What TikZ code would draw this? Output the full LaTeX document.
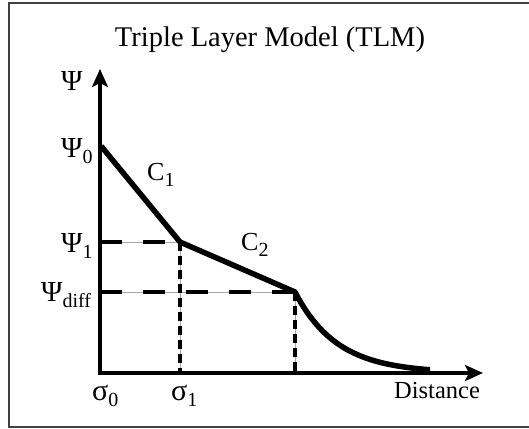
\documentclass[tikz,border=0pt]{standalone}
\usepackage{fontspec}
\setmainfont{Liberation Serif}
\usetikzlibrary{arrows.meta}
\newcommand{\lbl}[3]{{\fontsize{#1}{#1}\selectfont #2}\raisebox{-6.5pt}{\fontsize{20}{20}\selectfont #3}}
\begin{document}
\begin{tikzpicture}[x=1pt,y=-1pt,
  frameline/.style={line width=2pt, draw=black!75},
  axisline/.style={line width=4pt, line join=miter,
    {Stealth[length=18pt,width=16pt,inset=4pt]}-{Stealth[length=18pt,width=16pt,inset=4pt]}},
  curveline/.style={line width=5.5pt, line join=round},
  guide/.style={line width=0.9pt, draw=black!35},
  hdash/.style={line width=4pt, dash pattern=on 22pt off 21pt},
  vdash/.style={line width=3.6pt, dash pattern=on 9pt off 5pt},
  lab/.style={inner sep=0pt, anchor=base west},
  every node/.style={font=\fontsize{26}{26}\selectfont}
]
\useasboundingbox (0,0) rectangle (529,428);
% frame (open on the right)
\draw[frameline] (529,3.5) -- (8.5,3.5) -- (8.5,426.5) -- (529,426.5);

% key coordinates
\coordinate (O) at (100,373);
\coordinate (ytip) at (100,69);
\coordinate (xtip) at (483,373);
\coordinate (p0) at (101,146);
\coordinate (p1) at (180,242);
\coordinate (pd) at (295,292);
\coordinate (y1) at (100,242);
\coordinate (yd) at (100,292);
\coordinate (x1) at (180,373);
\coordinate (xd) at (295,373);

% thin guide lines
\draw[guide] (y1) -- (p1) -- (x1);
\draw[guide] (yd) -- (pd) -- (xd);
% dashed lines
\draw[hdash] (y1) -- (p1);
\draw[hdash] (yd) -- (pd);
\draw[vdash] (p1) -- (x1);
\draw[vdash] (pd) -- (xd);

% potential profile
\draw[curveline] (p0) -- (p1) -- (pd) -- plot[domain=295:430, samples=80] (\x,{373-81*exp(-(\x-295)/42)});

% axes
\draw[axisline] (ytip) -- (O) -- (xtip);

% labels
\node[inner sep=0pt, anchor=base, font=\fontsize{28.5}{30}\selectfont] (title) at (270,47) {Triple Layer Model (TLM)};
\node[lab, font=\fontsize{29}{29}\selectfont] (psi) at (61,90) {Ψ};
\node[lab] (psi0) at (61,157) {\lbl{29}{Ψ}{0}};
\node[lab] (psi1) at (61,252) {\lbl{29}{Ψ}{1}};
\node[lab] (psid) at (41,301) {\lbl{29}{Ψ}{diff}};
\node[lab] (s0) at (92,400) {\lbl{30}{σ}{0}};
\node[lab] (s1) at (171,400) {\lbl{30}{σ}{1}};
\node[lab, font=\fontsize{24.5}{24.5}\selectfont] (dist) at (394,398) {Distance};
\node[lab] (c1) at (147,180) {\lbl{26}{C}{1}};
\node[lab] (c2) at (241,250) {\lbl{26}{C}{2}};
\end{tikzpicture}
\end{document}
